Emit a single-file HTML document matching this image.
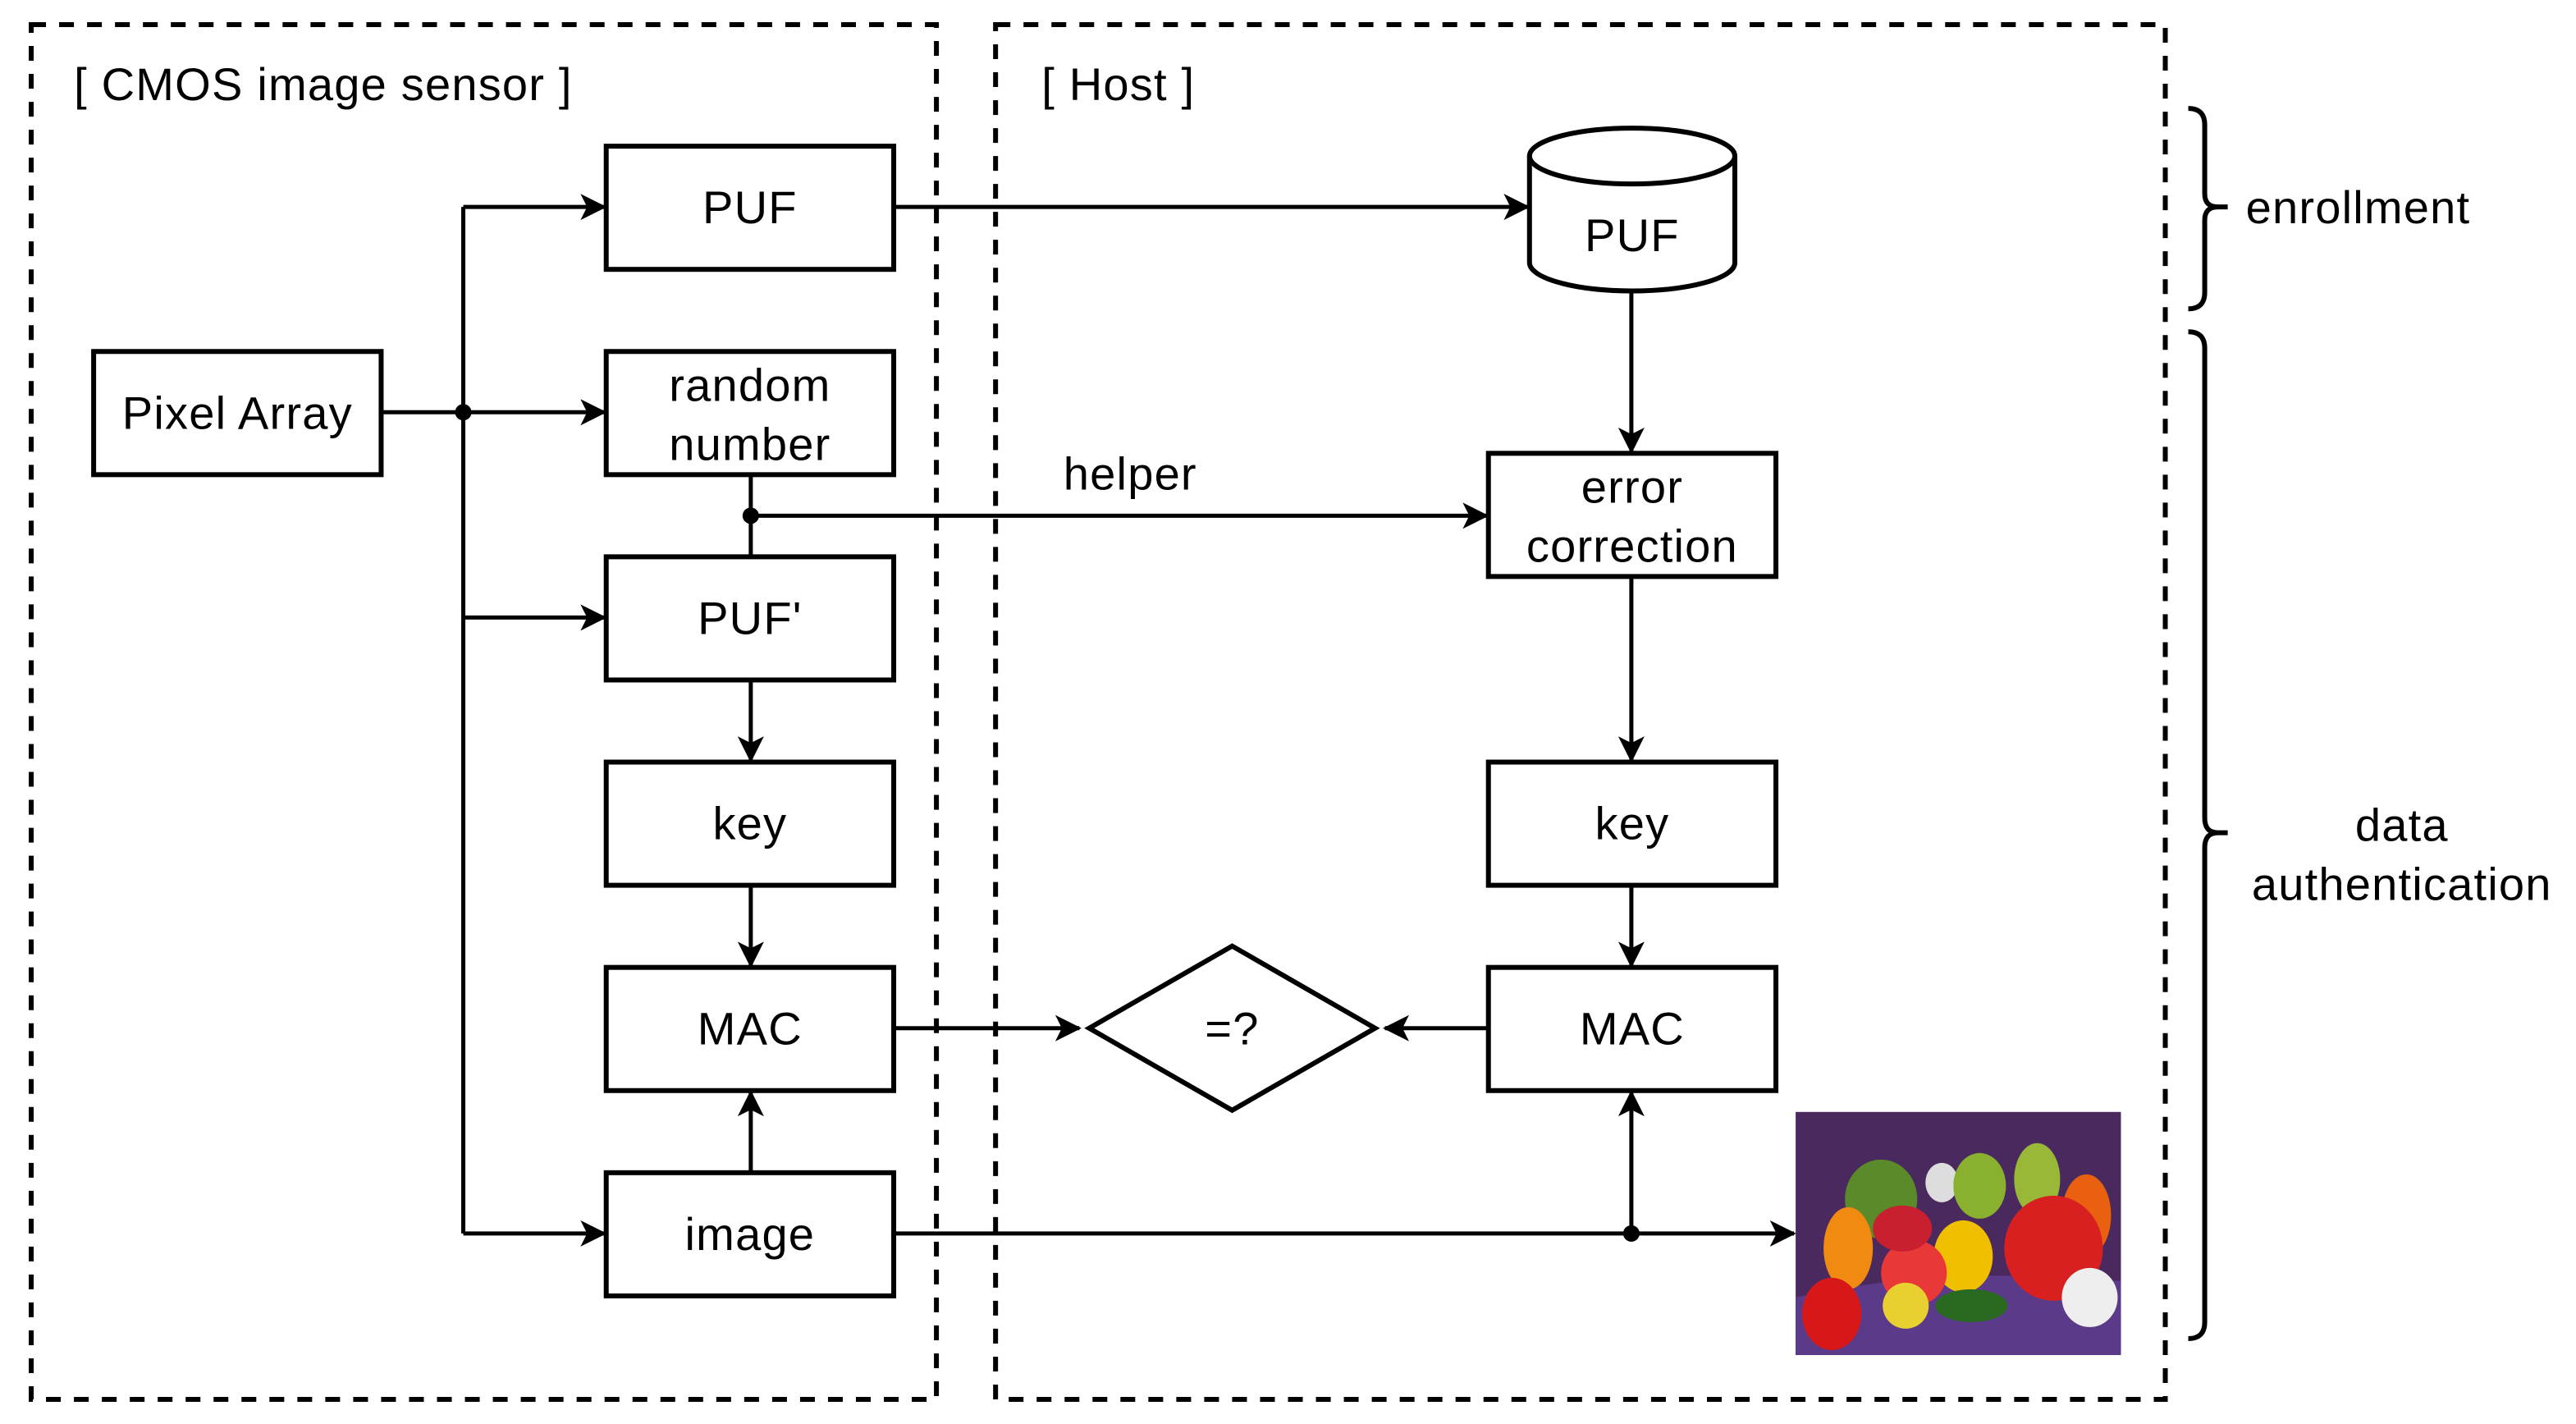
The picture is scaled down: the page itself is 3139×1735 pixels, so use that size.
<!DOCTYPE html>
<html><head><style>html,body{margin:0;padding:0;background:#fff}svg{display:block}</style></head>
<body>
<svg width="3139" height="1735" viewBox="0 0 1568 867" preserveAspectRatio="none" xmlns="http://www.w3.org/2000/svg" font-family="Liberation Sans, sans-serif" font-size="28" letter-spacing="0.6">
<defs>
<marker id="a" viewBox="0 0 12 12" refX="11" refY="6" markerWidth="16" markerHeight="16" markerUnits="userSpaceOnUse" orient="auto">
<path d="M0,0 L12,6 L0,12 L3,6 Z" fill="#000"/></marker>
</defs>
<g fill="none" stroke="#000" stroke-width="3" stroke-dasharray="9 8">
<rect x="19" y="15" width="551" height="837"/>
<rect x="606" y="15" width="712" height="837"/>
</g>
<text x="45" y="61">[ CMOS image sensor ]</text>
<text x="634" y="61">[ Host ]</text>
<g fill="#fff" stroke="#000" stroke-width="3">
<rect x="57" y="214" width="175" height="75"/>
<rect x="369" y="89" width="175" height="75"/>
<rect x="369" y="214" width="175" height="75"/>
<rect x="369" y="339" width="175" height="75"/>
<rect x="369" y="464" width="175" height="75"/>
<rect x="369" y="589" width="175" height="75"/>
<rect x="369" y="714" width="175" height="75"/>
<rect x="906" y="276" width="175" height="75"/>
<rect x="906" y="464" width="175" height="75"/>
<rect x="906" y="589" width="175" height="75"/>
<path d="M663,626 L750,576 L837,626 L750,676 Z"/>
<path d="M931,95 L931,160 A62,17 0 0 0 1056,160 L1056,95"/>
<ellipse cx="993.5" cy="95" rx="62.5" ry="17"/>
</g>
<g fill="none" stroke="#000" stroke-width="2.5">
<path d="M232,251 H368" marker-end="url(#a)"/>
<path d="M282,126 V751"/>
<path d="M282,126 H368" marker-end="url(#a)"/>
<path d="M282,376 H368" marker-end="url(#a)"/>
<path d="M282,751 H368" marker-end="url(#a)"/>
<path d="M457,289 V339"/>
<path d="M457,314 H905" marker-end="url(#a)"/>
<path d="M457,414 V463" marker-end="url(#a)"/>
<path d="M457,539 V588" marker-end="url(#a)"/>
<path d="M457,714 V665" marker-end="url(#a)"/>
<path d="M544,126 H930" marker-end="url(#a)"/>
<path d="M993,177 V275" marker-end="url(#a)"/>
<path d="M993,351 V463" marker-end="url(#a)"/>
<path d="M993,539 V588" marker-end="url(#a)"/>
<path d="M544,626 H657" marker-end="url(#a)"/>
<path d="M906,626 H843" marker-end="url(#a)"/>
<path d="M544,751 H1092" marker-end="url(#a)"/>
<path d="M993,751 V665" marker-end="url(#a)"/>
<path d="M1332,66 Q1342,66 1342,76 V118 Q1342,126 1350,126 H1356 M1350,126 Q1342,126 1342,134 V178 Q1342,188 1332,188" stroke-width="3"/>
<path d="M1332,202 Q1342,202 1342,212 V498 Q1342,507 1350,507 H1356 M1350,507 Q1342,507 1342,516 V805 Q1342,815 1332,815" stroke-width="3"/>
</g>
<circle cx="282" cy="251" r="5"/>
<circle cx="457" cy="314" r="5"/>
<circle cx="993" cy="751" r="5"/>
<g text-anchor="middle">
<text x="144.5" y="261">Pixel Array</text>
<text x="456.5" y="136">PUF</text>
<text x="456.5" y="244">random</text>
<text x="456.5" y="280">number</text>
<text x="456.5" y="386">PUF'</text>
<text x="456.5" y="511">key</text>
<text x="456.5" y="636">MAC</text>
<text x="456.5" y="761">image</text>
<text x="993.5" y="153">PUF</text>
<text x="993.5" y="306">error</text>
<text x="993.5" y="342">correction</text>
<text x="993.5" y="511">key</text>
<text x="993.5" y="636">MAC</text>
<text x="750" y="636">=?</text>
<text x="688" y="298">helper</text>
<text x="1462" y="512">data</text>
<text x="1462" y="548">authentication</text>
</g>
<text x="1367" y="136">enrollment</text>
<g>
<rect x="1093" y="677" width="198" height="148" fill="#4a2a5e"/>
<path d="M1093,790 Q1180,770 1291,780 V825 H1093 Z" fill="#5b3a8a"/>
<ellipse cx="1145" cy="730" rx="22" ry="24" fill="#5a8a2a"/>
<ellipse cx="1182" cy="720" rx="10" ry="12" fill="#ddd"/>
<ellipse cx="1205" cy="722" rx="16" ry="20" fill="#8ab030"/>
<ellipse cx="1240" cy="718" rx="14" ry="22" fill="#9ab838"/>
<ellipse cx="1270" cy="740" rx="15" ry="25" fill="#e86010"/>
<ellipse cx="1250" cy="760" rx="30" ry="32" fill="#d82020"/>
<ellipse cx="1195" cy="765" rx="18" ry="22" fill="#f0c000"/>
<ellipse cx="1165" cy="775" rx="20" ry="20" fill="#e83838"/>
<ellipse cx="1125" cy="760" rx="15" ry="25" fill="#f08a10"/>
<ellipse cx="1158" cy="748" rx="18" ry="14" fill="#c82030"/>
<ellipse cx="1115" cy="800" rx="18" ry="22" fill="#d81818"/>
<ellipse cx="1200" cy="795" rx="22" ry="10" fill="#2a6a20"/>
<ellipse cx="1160" cy="795" rx="14" ry="14" fill="#e8d030"/>
<ellipse cx="1272" cy="790" rx="17" ry="18" fill="#eee"/>
</g>
</svg>
</body></html>
